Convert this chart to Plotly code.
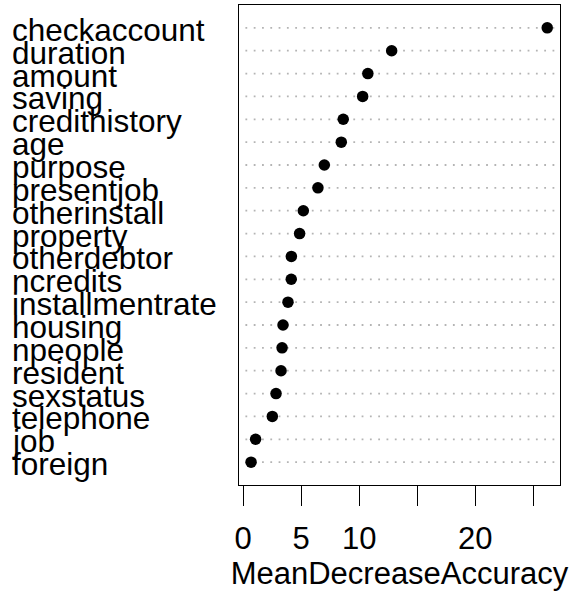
import plotly.graph_objects as go

# Variable importance (random forest), sorted from most to least important
variables = [
    "checkaccount", "duration", "amount", "saving", "credithistory",
    "age", "purpose", "presentjob", "otherinstall", "property",
    "otherdebtor", "ncredits", "installmentrate", "housing", "npeople",
    "resident", "sexstatus", "telephone", "job", "foreign",
]
mean_decrease_accuracy = [
    26.2, 12.8, 10.75, 10.3, 8.63,
    8.46, 7.0, 6.45, 5.19, 4.87,
    4.16, 4.15, 3.87, 3.44, 3.36,
    3.27, 2.84, 2.52, 1.08, 0.69,
]
tick_values = [0, 5, 10, 15, 20, 25]
tick_labels = ["0", "5", "10", "", "20", ""]

FONT = "Liberation Sans, Arial, Helvetica, sans-serif"
W, H = 574, 601
L, R, T, B = 239, 14, 5, 116

n = len(variables)
# dotchart ordering: first variable at the top
ypos = list(range(n, 0, -1))

fig = go.Figure()

# dotted guide lines, one per variable
for y in ypos:
    fig.add_shape(
        type="line", xref="paper", yref="y", x0=0.02, x1=1, y0=y, y1=y,
        line=dict(color="#b4b4b4", width=1.8, dash="1.8px,6.5px"),
        layer="below",
    )

fig.add_trace(go.Scatter(
    x=mean_decrease_accuracy, y=ypos, mode="markers",
    marker=dict(color="black", size=11.5, line=dict(width=0)),
    hovertext=variables, showlegend=False,
))

# left-aligned variable names
plot_w = W - L - R
for name, y in zip(variables, ypos):
    fig.add_annotation(
        text=name, xref="paper", yref="y", x=(10 - L) / plot_w, y=y,
        xanchor="left", yanchor="middle", showarrow=False, yshift=-2,
        font=dict(family=FONT, size=31.5, color="black"),
    )

fig.update_layout(
    width=W, height=H,
    margin=dict(l=L, r=R, t=T, b=B, pad=0),
    paper_bgcolor="white", plot_bgcolor="white",
    font=dict(family=FONT, color="black"),
    xaxis=dict(
        range=[-0.35, 27.3], tickvals=tick_values, ticktext=tick_labels,
        ticks="outside", ticklen=20, tickwidth=1.3, tickcolor="black",
        showgrid=False, zeroline=False,
        showline=True, mirror=True, linecolor="black", linewidth=1.3,
        tickfont=dict(family=FONT, size=31, color="black"),
        ticklabelstandoff=6,
        title=dict(text="MeanDecreaseAccuracy", standoff=0,
                   font=dict(family=FONT, size=31, color="black")),
    ),
    yaxis=dict(
        range=[0, n + 1], showticklabels=False, ticks="",
        showgrid=False, zeroline=False,
        showline=True, mirror=True, linecolor="black", linewidth=1.3,
    ),
)

fig.write_html("out.html")
